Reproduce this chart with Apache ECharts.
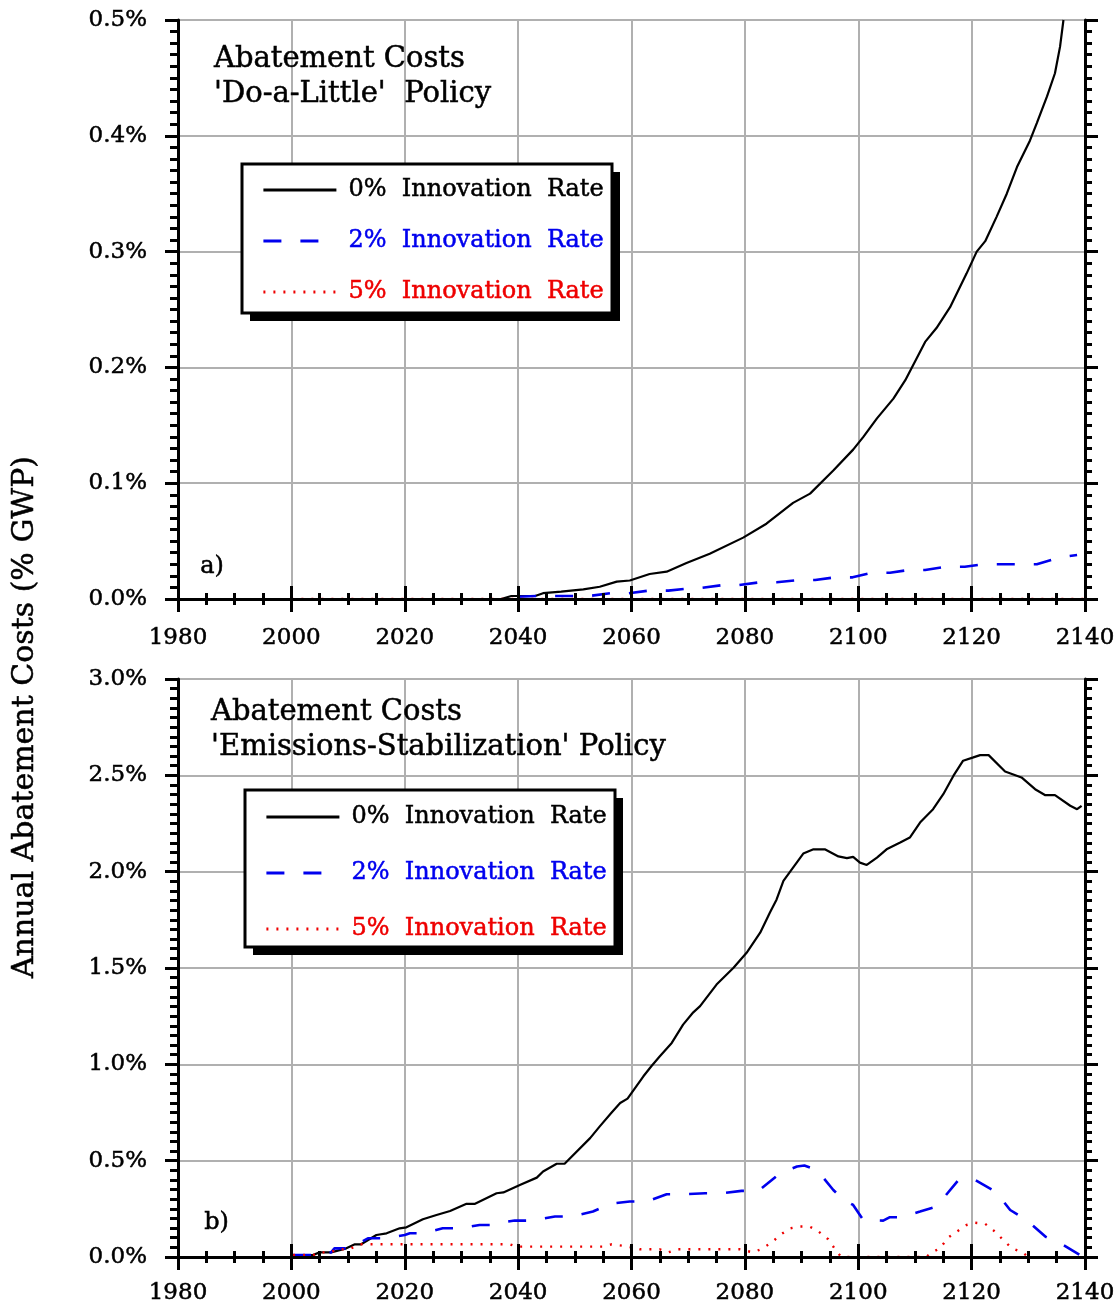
<!DOCTYPE html>
<html>
<head>
<meta charset="utf-8">
<script src="https://cdn.jsdelivr.net/npm/echarts@6/dist/echarts.min.js"></script>
<style>html,body{margin:0;padding:0;background:#fff;}#c{width:1118px;height:1310px;}</style>
</head>
<body>
<div id="c"></div>
<script>
// ---------- DATA ----------
const xTickYears = [1980, 2000, 2020, 2040, 2060, 2080, 2100, 2120, 2140];
const seriesNames = ['0%  Innovation  Rate', '2%  Innovation  Rate', '5%  Innovation  Rate'];

// Panel a) 'Do-a-Little' policy (% GWP)
const aZeroYears = [2037, 2038.8, 2043, 2044.4, 2047.6, 2051.5, 2054.4, 2057.4, 2059.7, 2063.2, 2066.2, 2069.7, 2073.8, 2079.7, 2083.8, 2088.5, 2091.5, 2095.6, 2099.1, 2100.9, 2103.3, 2106.2, 2108.3, 2111.8, 2113.8, 2116.2, 2119.1, 2120.9, 2122.4, 2124.4, 2126.2, 2128.0, 2130.3, 2131.5, 2133.3, 2134.7, 2135.6, 2136.2];
const aZeroVals  = [0, 0.0026, 0.0026, 0.005, 0.0063, 0.0083, 0.0106, 0.015, 0.016, 0.0216, 0.0236, 0.031, 0.039, 0.053, 0.065, 0.083, 0.091, 0.111, 0.129, 0.140, 0.156, 0.173, 0.189, 0.222, 0.234, 0.252, 0.281, 0.300, 0.309, 0.330, 0.350, 0.373, 0.396, 0.411, 0.434, 0.454, 0.477, 0.5];
const aTwoYears = [2040, 2043.3, 2046.5, 2049, 2052.5, 2056.3, 2059.5, 2063, 2066.5, 2070, 2071.5, 2076, 2079, 2082.6, 2085.6, 2089.7, 2092.4, 2095.9, 2099, 2102.4, 2105.6, 2108.8, 2111.8, 2115.6, 2118.8, 2122, 2125.9, 2128.8, 2131.5, 2135.6, 2138.6];
const aTwoVals  = [0.002, 0.0026, 0.0026, 0.0026, 0.0026, 0.005, 0.005, 0.0072, 0.0072, 0.009, 0.009, 0.012, 0.012, 0.0144, 0.0144, 0.0164, 0.0164, 0.0187, 0.0187, 0.0227, 0.0227, 0.025, 0.025, 0.0279, 0.0279, 0.030, 0.030, 0.030, 0.030, 0.036, 0.038];
const aFiveYears = [2000, 2040, 2080, 2120, 2140];
const aFiveVals  = [0, 0, 0, 0, 0];

// Panel b) 'Emissions-Stabilization' policy (% GWP)
const bZeroYears = [2000.3, 2003.8, 2005, 2007, 2009.7, 2011.2, 2012.3, 2015, 2016.8, 2019.1, 2020.3, 2023.2, 2025.6, 2028, 2030.9, 2032.4, 2036.2, 2037.4, 2040.3, 2043.3, 2044.4, 2046.8, 2048.2, 2052.7, 2054.4, 2056.5, 2058, 2059.3, 2062.1, 2063.5, 2065, 2067.1, 2069.1, 2070.9, 2072.1, 2075, 2078, 2080.3, 2082.7, 2084.4, 2085.6, 2086.8, 2088.5, 2090.3, 2092.1, 2094.1, 2096.5, 2098, 2099.1, 2100.3, 2101.5, 2103.3, 2105, 2107.4, 2109.1, 2110.9, 2113.2, 2115, 2116.8, 2118.5, 2120.3, 2121.5, 2123, 2125.9, 2128.8, 2131.2, 2133, 2134.7, 2137.4, 2138.6, 2139.4];
const bZeroVals  = [0.01, 0.01, 0.024, 0.024, 0.045, 0.066, 0.066, 0.114, 0.123, 0.149, 0.154, 0.196, 0.218, 0.239, 0.276, 0.276, 0.331, 0.335, 0.374, 0.412, 0.444, 0.484, 0.484, 0.617, 0.678, 0.75, 0.799, 0.822, 0.938, 0.99, 1.042, 1.111, 1.206, 1.27, 1.302, 1.414, 1.501, 1.579, 1.683, 1.787, 1.856, 1.952, 2.021, 2.094, 2.116, 2.116, 2.079, 2.07, 2.077, 2.047, 2.035, 2.073, 2.116, 2.151, 2.177, 2.255, 2.324, 2.402, 2.498, 2.576, 2.593, 2.605, 2.605, 2.520, 2.489, 2.428, 2.397, 2.397, 2.342, 2.324, 2.342];
const bTwoYears = [2000.3, 2003.8, 2005, 2007, 2007.6, 2010.2, 2013.5, 2016.5, 2020, 2020.9, 2023.2, 2026.7, 2029.7, 2033.2, 2036.2, 2038, 2039.4, 2042.3, 2046.5, 2049.4, 2053.2, 2056.2, 2059.7, 2062.7, 2066.2, 2069.1, 2073, 2075.9, 2079.4, 2082.4, 2086.2, 2089.2, 2090.5, 2092.7, 2095.6, 2097.1, 2099.1, 2100.9, 2104.4, 2105.5, 2107.4, 2110.9, 2113.8, 2117.7, 2120.6, 2124.2, 2126.8, 2129.7, 2133, 2136.2, 2139.1];
const bTwoVals  = [0.01, 0.01, 0.024, 0.024, 0.045, 0.045, 0.097, 0.097, 0.114, 0.123, 0.123, 0.149, 0.149, 0.166, 0.166, 0.183, 0.189, 0.189, 0.21, 0.21, 0.236, 0.276, 0.288, 0.288, 0.326, 0.326, 0.331, 0.331, 0.343, 0.343, 0.435, 0.47, 0.475, 0.452, 0.348, 0.305, 0.27, 0.192, 0.189, 0.206, 0.206, 0.236, 0.262, 0.40, 0.40, 0.34, 0.244, 0.192, 0.106, 0.062, 0.01];
const bFiveYears = [2000.3, 2003.8, 2005, 2007, 2007.9, 2010.2, 2012, 2038.5, 2039.7, 2055, 2056.5, 2058.6, 2060, 2061.5, 2065, 2066.5, 2068.2, 2079.1, 2081.4, 2082.8, 2084.7, 2086.2, 2088, 2089.6, 2091.4, 2092.8, 2094.7, 2096.2, 2097, 2112, 2113, 2114.4, 2115.9, 2117.1, 2119.1, 2120.6, 2122.4, 2123.8, 2125.6, 2127.1, 2129, 2130];
const bFiveVals  = [0.01, 0.01, 0.024, 0.024, 0.04, 0.04, 0.066, 0.066, 0.054, 0.054, 0.066, 0.058, 0.05, 0.04, 0.04, 0.024, 0.04, 0.04, 0.024, 0.04, 0.074, 0.114, 0.149, 0.158, 0.158, 0.137, 0.092, 0.028, 0, 0, 0.024, 0.045, 0.102, 0.126, 0.166, 0.178, 0.172, 0.14, 0.088, 0.045, 0.024, 0];

// ---------- CHART ----------
const FONT = 'DejaVu Serif';
const zip = (xs, ys) => xs.map((x, i) => [x, ys[i]]);
const colors = ['#000000', '#0000ee', '#ee0000'];
const lineStyles = [
  { color: colors[0], width: 2.2, type: 'solid' },
  { color: colors[1], width: 2.6, type: [18, 19] },
  { color: colors[2], width: 2.4, type: [2, 8] }
];
const grids = [
  { left: 178, top: 20, width: 907, height: 579 },
  { left: 178, top: 679, width: 907, height: 578 }
];
const yRanges = [{ max: 0.5, interval: 0.1 }, { max: 3.0, interval: 0.5 }];
const TXT_BORDER = { textBorderColor: '#000', textBorderWidth: 0.5 };

const xAxes = [], yAxes = [];
grids.forEach((g, gi) => {
  const xBase = { gridIndex: gi, type: 'value', min: xTickYears[0], max: xTickYears[xTickYears.length - 1], interval: 20 };
  xAxes.push(Object.assign({}, xBase, { position: 'bottom', z: 0,
    axisLine: { show: false }, axisTick: { show: false }, axisLabel: { show: false },
    splitLine: { show: true, lineStyle: { color: '#b0b0b0', width: 2 } } }));
  xAxes.push(Object.assign({}, xBase, { position: 'bottom', z: 10,
    axisLine: { show: true, lineStyle: { color: '#000', width: 3 } },
    axisTick: { show: true, inside: false, length: 13, lineStyle: { color: '#000', width: 3 } },
    minorTick: { show: true, splitNumber: 4, length: 6, lineStyle: { color: '#000', width: 3 } },
    axisLabel: Object.assign({ show: true, margin: gi === 0 ? 28 : 25, color: '#000', fontFamily: FONT, fontSize: 23,
      showMinLabel: true, showMaxLabel: true, formatter: v => String(v) }, TXT_BORDER),
    splitLine: { show: false } }));
  xAxes.push(Object.assign({}, xBase, { position: 'top', z: 10,
    axisLine: { show: true, lineStyle: { color: '#000', width: 3 } },
    axisTick: { show: true, inside: false, length: 13, lineStyle: { color: '#000', width: 3 } },
    minorTick: { show: true, splitNumber: 4, length: 6, lineStyle: { color: '#000', width: 3 } },
    axisLabel: { show: false }, splitLine: { show: false } }));

  const yBase = { gridIndex: gi, type: 'value', min: 0, max: yRanges[gi].max, interval: yRanges[gi].interval };
  yAxes.push(Object.assign({}, yBase, { position: 'left', z: 0,
    axisLine: { show: false }, axisTick: { show: false }, axisLabel: { show: false },
    splitLine: { show: true, lineStyle: { color: '#b0b0b0', width: 2 } } }));
  yAxes.push(Object.assign({}, yBase, { position: 'left', z: 10,
    axisLine: { show: true, lineStyle: { color: '#000', width: 3 } },
    axisTick: { show: true, inside: false, length: 13, lineStyle: { color: '#000', width: 3 } },
    minorTick: { show: true, splitNumber: 10, length: 8, lineStyle: { color: '#000', width: 3 } },
    axisLabel: Object.assign({ show: true, margin: 31, color: '#000', fontFamily: FONT, fontSize: 23,
      formatter: v => v.toFixed(1) + '%' }, TXT_BORDER),
    splitLine: { show: false } }));
  yAxes.push(Object.assign({}, yBase, { position: 'right', z: 10,
    axisLine: { show: true, lineStyle: { color: '#000', width: 3 } },
    axisTick: { show: true, inside: false, length: 13, lineStyle: { color: '#000', width: 3 } },
    minorTick: { show: true, splitNumber: 10, length: 7, lineStyle: { color: '#000', width: 3 } },
    axisLabel: { show: false }, splitLine: { show: false } }));
});

const panelData = [
  [zip(aZeroYears, aZeroVals), zip(aTwoYears, aTwoVals), zip(aFiveYears, aFiveVals)],
  [zip(bZeroYears, bZeroVals), zip(bTwoYears, bTwoVals), zip(bFiveYears, bFiveVals)]
];
const series = [];
panelData.forEach((arr, gi) => {
  arr.forEach((d, si) => {
    series.push({
      type: 'line', name: seriesNames[si], data: d,
      xAxisIndex: gi * 3, yAxisIndex: gi * 3,
      symbol: 'none', showSymbol: false, smooth: false, clip: true,
      lineStyle: lineStyles[si], itemStyle: { color: colors[si] }, z: 2
    });
  });
});

const legendBase = {
  orient: 'vertical', selectedMode: false, z: 8,
  itemWidth: 73, itemHeight: 14,
  backgroundColor: 'transparent', borderWidth: 0,
  itemStyle: { opacity: 0 },
  lineStyle: { width: 2.8 },
  textStyle: { fontFamily: FONT, fontSize: 24, lineHeight: 28, padding: [0, 0, 0, 7] },
  data: seriesNames.map((n, i) => ({ name: n, textStyle: { color: colors[i], textBorderColor: colors[i], textBorderWidth: 0.5 } }))
};
const legends = [
  Object.assign({}, legendBase, { left: 242, top: 166, itemGap: 23, padding: [10, 9, 10, 20] }),
  Object.assign({}, legendBase, { left: 245, top: 792, itemGap: 28, padding: [11, 9, 8, 20] })
];

const titleStyle = Object.assign({ fontFamily: FONT, fontSize: 29, fontWeight: 'normal', lineHeight: 35, color: '#000' }, TXT_BORDER);
const titles = [
  { text: "Abatement Costs\n'Do-a-Little'  Policy", left: 214, top: 42, padding: 0, textStyle: titleStyle },
  { text: "Abatement Costs\n'Emissions-Stabilization' Policy", left: 211, top: 695, padding: 0, textStyle: titleStyle }
];

// legend frames (box + solid drop shadow)
const frames = [
  { x: 242, y: 164, w: 370, h: 149, off: 8 },
  { x: 245, y: 790, w: 370, h: 157, off: 8 }
];
const frameGraphics = [];
frames.forEach(f => {
  frameGraphics.push({ type: 'rect', z: 6, shape: { x: f.x + f.off, y: f.y + f.off, width: f.w, height: f.h },
    style: { fill: '#000', stroke: null } });
  frameGraphics.push({ type: 'rect', z: 7, shape: { x: f.x, y: f.y, width: f.w, height: f.h },
    style: { fill: '#fff', stroke: '#000', lineWidth: 3 } });
});

const chart = echarts.init(document.getElementById('c'), null, { renderer: 'canvas' });
chart.setOption({
  animation: false,
  backgroundColor: '#fff',
  title: titles,
  legend: legends,
  grid: grids,
  xAxis: xAxes,
  yAxis: yAxes,
  series: series,
  graphic: frameGraphics.concat([
    { type: 'text', left: 200, top: 555, z: 20,
      style: { text: 'a)', font: '24px "DejaVu Serif"', fill: '#000', stroke: '#000', lineWidth: 0.5 } },
    { type: 'text', left: 204, top: 1211, z: 20,
      style: { text: 'b)', font: '24px "DejaVu Serif"', fill: '#000', stroke: '#000', lineWidth: 0.5 } },
    { type: 'text', x: 25, y: 717, rotation: Math.PI / 2, z: 20,
      style: { text: 'Annual Abatement Costs (% GWP)', font: '30px "DejaVu Serif"', fill: '#000',
        stroke: '#000', lineWidth: 0.5, align: 'center', verticalAlign: 'middle' } }
  ])
});
</script>
</body>
</html>
